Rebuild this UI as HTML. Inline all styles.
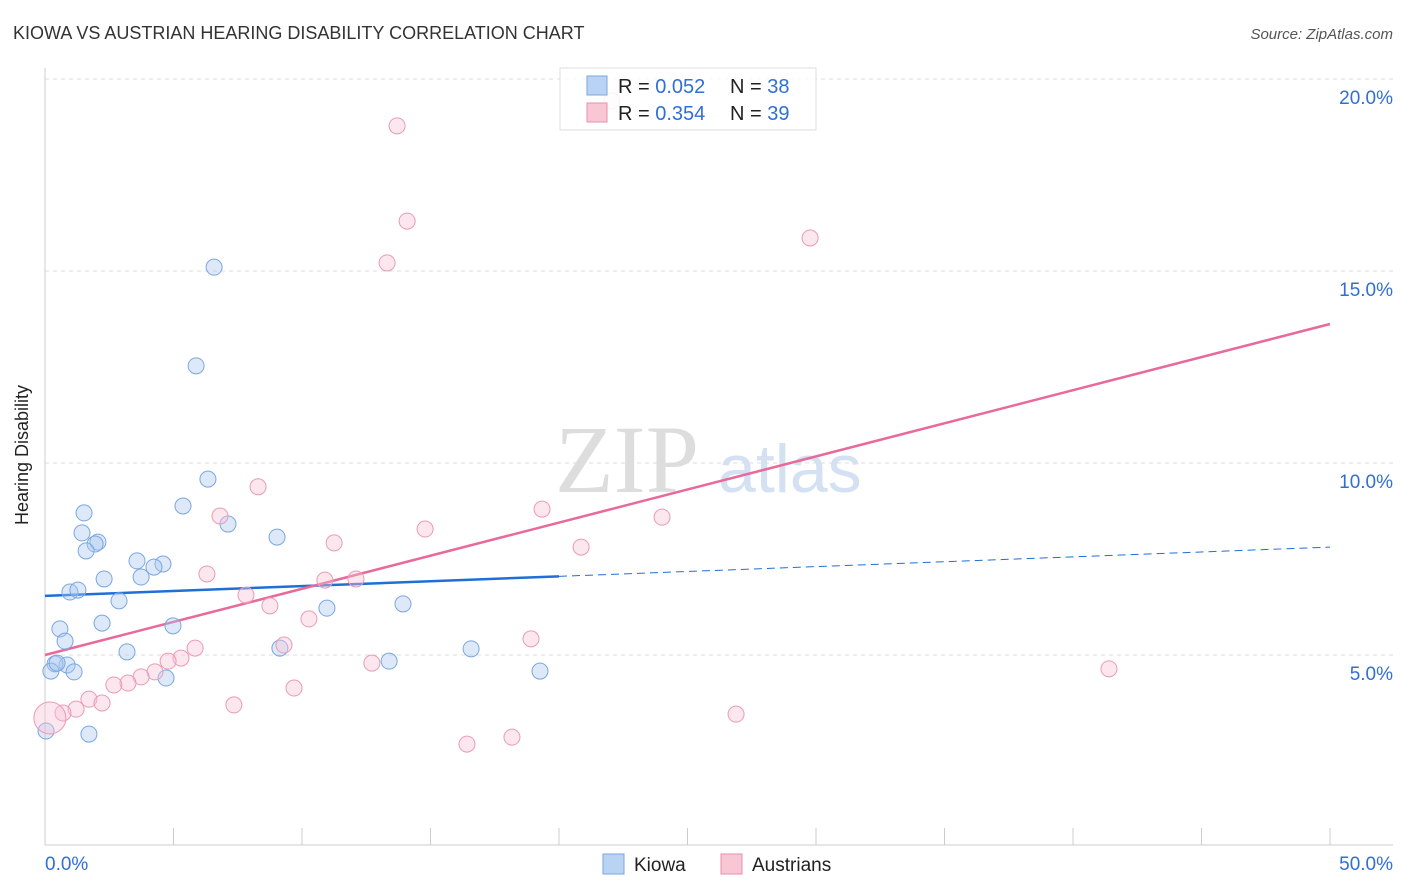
<!DOCTYPE html>
<html><head><meta charset="utf-8"><style>
body{margin:0;background:#fff;font-family:"Liberation Sans",sans-serif;}
svg{display:block}
</style></head><body>
<svg id="chart" width="1406" height="892">
<text x="13" y="39" font-size="18" fill="#333">KIOWA VS AUSTRIAN HEARING DISABILITY CORRELATION CHART</text>
<text x="1393" y="39" font-size="15" fill="#555" text-anchor="end" font-style="italic">Source: ZipAtlas.com</text>
<text x="28" y="455" font-size="18" fill="#222" text-anchor="middle" transform="rotate(-90 28 455)">Hearing Disability</text>
<text x="555" y="492" font-size="96" fill="#ddd" font-family="Liberation Serif,serif">ZIP</text>
<text x="718" y="492" font-size="68" fill="#d3e1f3">atlas</text>
<g id="grid"></g><g id="axes"></g><g id="lines"></g><g id="pts"></g>
<g>
<rect x="560" y="68" width="256" height="62" fill="rgba(255,255,255,0.85)" stroke="#ddd"/>
<rect x="587" y="76" width="20" height="19" fill="#b9d3f5" stroke="#7aa7e0"/>
<rect x="587" y="103" width="20" height="19" fill="#f8c6d5" stroke="#e98fad"/>
<text x="618" y="93" font-size="20" fill="#222">R = <tspan fill="#2f6fd6">0.052</tspan></text>
<text x="730" y="93" font-size="20" fill="#222">N = <tspan fill="#2f6fd6">38</tspan></text>
<text x="618" y="120" font-size="20" fill="#222">R = <tspan fill="#2f6fd6">0.354</tspan></text>
<text x="730" y="120" font-size="20" fill="#222">N = <tspan fill="#2f6fd6">39</tspan></text>
</g>
<g>
<rect x="603" y="854" width="21" height="20" fill="#b9d3f5" stroke="#7aa7e0"/>
<text x="634" y="871" font-size="19" fill="#222">Kiowa</text>
<rect x="721" y="854" width="21" height="20" fill="#f8c6d5" stroke="#e98fad"/>
<text x="752" y="871" font-size="19" fill="#222">Austrians</text>
</g>
</svg>
<script>
const kiowaX=[6.58,5.88,6.34,5.37,7.12,1.52,1.44,2.06,1.95,1.60,3.58,4.59,4.24,3.74,2.30,9.03,0.97,1.28,2.88,2.22,0.58,4.98,0.78,3.19,9.14,10.97,13.93,13.39,16.58,19.26,0.86,0.39,0.23,1.13,4.71,0.04,1.71,0.47];
const kiowaY=[15.10,12.53,9.58,8.88,8.41,8.70,8.18,7.94,7.89,7.71,7.45,7.37,7.29,7.03,6.98,8.07,6.64,6.69,6.41,5.83,5.68,5.76,5.36,5.08,5.18,6.22,6.33,4.84,5.16,4.58,4.74,4.77,4.58,4.56,4.40,3.02,2.94,4.79];
const austX=[13.70,14.09,13.31,29.77,8.29,6.81,19.34,24.01,14.79,11.25,20.86,6.30,10.89,12.10,7.82,8.75,10.27,18.91,9.30,5.84,5.29,4.79,4.28,3.74,3.23,2.68,1.71,2.22,1.21,0.70,0.19,7.35,9.69,12.72,41.40,26.89,16.42,18.17,22.06];
const austY=[18.78,16.30,15.21,15.86,9.38,8.62,8.80,8.59,8.28,7.92,7.81,7.11,6.95,6.98,6.56,6.28,5.94,5.42,5.26,5.18,4.92,4.84,4.56,4.43,4.27,4.22,3.85,3.75,3.59,3.49,3.36,3.70,4.14,4.79,4.64,3.46,2.68,2.86,19.43];
const kiowaTrend=[6.54,7.81];
const austTrend=[5.0,13.62];
const yTicks=[5,10,15,20];
const xTickLabels=["0.0%","50.0%"];
const NS="http://www.w3.org/2000/svg";
const sx=v=>45+v*25.7, sy=v=>847-v*38.4;
function mk(p,tag,a){const e=document.createElementNS(NS,tag);for(const k in a)e.setAttribute(k,a[k]);const par=document.getElementById(p);par.appendChild(e);return e;}
yTicks.forEach(t=>{
 const g=mk('grid','line',{x1:45,x2:1393,y1:sy(t),y2:sy(t),stroke:'#ddd','stroke-dasharray':'4 4'});
 
 
 const l=mk('axes','text',{x:1393,y:sy(t)+25,'font-size':19,fill:'#2f6fd6','text-anchor':'end'});l.textContent=t.toFixed(1)+'%';
 
 
});
const ax=mk('axes','line',{x1:45,x2:45,y1:68,y2:845,stroke:'#ccc'});


const bx=mk('axes','line',{x1:45,x2:1393,y1:845,y2:845,stroke:'#ccc'});


for(let i=0;i<=10;i++){const t=mk('axes','line',{x1:sx(i*5),x2:sx(i*5),y1:828,y2:845,stroke:'#ccc'});
 
 }
[[0,'start',45],[1,'end',1393]].forEach(([i,a,x])=>{const t=mk('axes','text',{x:x,y:870,'font-size':19,fill:'#2f6fd6','text-anchor':a});t.textContent=xTickLabels[i];
 
 });
const yb=x=>kiowaTrend[0]+(kiowaTrend[1]-kiowaTrend[0])*x/50;
let l1=mk('lines','line',{x1:sx(0),y1:sy(yb(0)),x2:sx(20),y2:sy(yb(20)),stroke:'#1f6fd6','stroke-width':2.5});


let l2=mk('lines','line',{x1:sx(20),y1:sy(yb(20)),x2:sx(50),y2:sy(yb(50)),stroke:'#1f6fd6','stroke-width':1,'stroke-dasharray':'8 5'});


let l3=mk('lines','line',{x1:sx(0),y1:sy(austTrend[0]),x2:sx(50),y2:sy(austTrend[1]),stroke:'#e8699a','stroke-width':2.5});


kiowaX.forEach((x,i)=>{const c=mk('pts','circle',{cx:sx(x),cy:sy(kiowaY[i]),r:8,fill:'rgba(170,200,240,0.4)',stroke:'#7aa7e0','stroke-width':1});
 
 });
austX.forEach((x,i)=>{const c=mk('pts','circle',{cx:sx(x),cy:sy(austY[i]),r:i==30?16:8,fill:'rgba(248,195,215,0.4)',stroke:'#eb9ab6','stroke-width':1});
 
 });
</script>
</body></html>
